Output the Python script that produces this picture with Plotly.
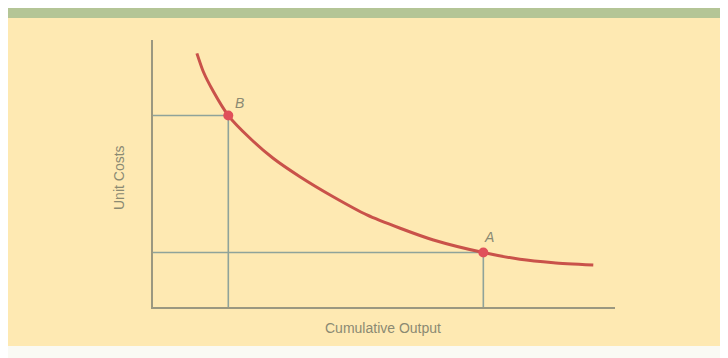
import plotly.graph_objects as go

OFF = 8                      # page body margin
W, H = 728 - OFF, 358 - OFF  # figure size

# Data (axis units 0-100, no numeric ticks shown)
curve_x = [9.5, 10.9, 13.1, 16.3, 21.0, 26.0, 31.8, 39.0, 46.3, 53.5, 60.7, 71.5, 79.4, 86.7, 95.3]
curve_y = [95.0, 88.1, 80.6, 71.7, 63.2, 55.7, 48.8, 41.3, 34.5, 29.5, 25.1, 20.4, 17.9, 16.6, 15.7]
point_labels = ["B", "A"]
point_x = [16.3, 71.5]
point_y = [71.7, 20.4]
x_title = "Cumulative Output"
y_title = "Unit Costs"

guide_col = "#8fa39a"
axis_col = "#9b9880"
curve_col = "#c9524a"
text_col = "#8b8a72"


def px(x):
    return (x - OFF) / W


def py(y):
    return 1 - (y - OFF) / H


fig = go.Figure()

for gx, gy in zip(point_x, point_y):
    fig.add_trace(go.Scatter(x=[0, gx, gx], y=[gy, gy, 0], mode="lines",
                             line=dict(color=guide_col, width=1.6),
                             hoverinfo="skip", showlegend=False))

fig.add_trace(go.Scatter(x=curve_x, y=curve_y, mode="lines",
                         line=dict(color=curve_col, width=3, shape="spline", smoothing=0.6),
                         hoverinfo="skip", showlegend=False))

fig.add_trace(go.Scatter(x=point_x, y=point_y, mode="markers",
                         marker=dict(color="#e0505a", size=10),
                         hoverinfo="skip", showlegend=False))

fig.update_layout(
    width=W, height=H,
    margin=dict(l=0, r=0, t=0, b=0),
    paper_bgcolor="#fafaf4",
    plot_bgcolor="rgba(0,0,0,0)",
    xaxis=dict(domain=[px(153), px(615)], range=[0, 100], showgrid=False, zeroline=False,
               showticklabels=False, ticks="", showline=True, linecolor=axis_col,
               linewidth=2, fixedrange=True),
    yaxis=dict(domain=[py(307), py(40)], range=[0, 100], showgrid=False, zeroline=False,
               showticklabels=False, ticks="", showline=True, linecolor=axis_col,
               linewidth=2, fixedrange=True),
    shapes=[
        dict(type="rect", xref="paper", yref="paper", x0=px(3), x1=1,
             y0=py(346), y1=py(18), fillcolor="#fee9b2", line=dict(width=0),
             layer="below"),
        dict(type="rect", xref="paper", yref="paper", x0=px(3), x1=1,
             y0=py(18), y1=py(8), fillcolor="#b4c596", line=dict(width=0),
             layer="below"),
    ],
)

label_shift = {"B": (5, 3, "left"), "A": (-1, 6, "left")}
for lab, lx, ly in zip(point_labels, point_x, point_y):
    xs, ys, anc = label_shift[lab]
    fig.add_annotation(x=lx, y=ly, text="<i>" + lab + "</i>", showarrow=False,
                       xanchor=anc, yanchor="bottom", xshift=xs, yshift=ys,
                       font=dict(family="Liberation Sans", size=14, color=text_col))

fig.add_annotation(xref="paper", yref="paper", x=px(383), y=py(328),
                   text=x_title, showarrow=False, xanchor="center", yanchor="middle",
                   font=dict(family="Liberation Sans", size=14, color=text_col))
fig.add_annotation(xref="paper", yref="paper", x=px(119), y=py(178),
                   text=y_title, showarrow=False, textangle=-90,
                   xanchor="center", yanchor="middle",
                   font=dict(family="Liberation Sans", size=14, color=text_col))

fig.write_html("out.html")
